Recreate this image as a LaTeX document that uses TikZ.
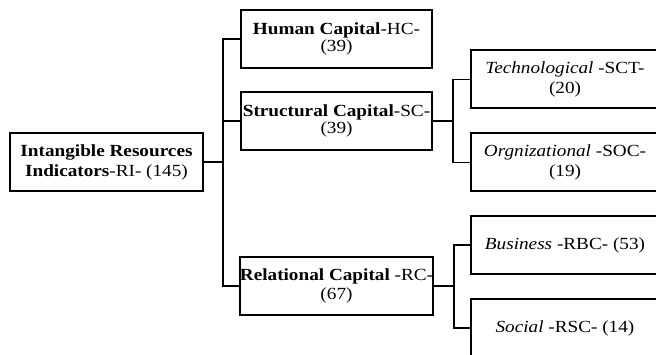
\documentclass[tikz,border=0pt]{standalone}
\usepackage{fontspec}
\setmainfont[FakeStretch=1.13]{Liberation Serif}

\begin{document}
\begin{tikzpicture}[
    x=1pt, y=-1pt,
    every node/.style={font=\fontsize{17}{17}\selectfont},
    box/.style={draw, line width=2pt, inner sep=0pt, align=center, minimum height=58pt},
    link/.style={line width=1.4pt},
    stem/.style={line width=2pt}
]
\useasboundingbox (0,0) rectangle (656,355);

% Root
\node[box, minimum width=193pt, font=\fontsize{17}{20}\selectfont] (ri) at (106.5,162)
{\textbf{Intangible Resources}\\\textbf{Indicators}-RI- (145)};

% Capitals
\node[box, minimum width=191pt] (hc) at (336.5,39) {\textbf{Human Capital}-HC-\\(39)};
\node[box, minimum width=191pt] (sc) at (336.5,121) {\textbf{Structural Capital}-SC-\\(39)};
\node[box, minimum width=191pt, font=\fontsize{17}{19}\selectfont] (rc) at (336.5,286)
{\textbf{Relational Capital} -RC-\\(67)};

% Sub-indicators
\node[box, minimum width=188pt, font=\fontsize{17}{20}\selectfont] (sct) at (565,79.5) {\textit{Technological} -SCT-\\(20)};
\node[box, minimum width=188pt, font=\fontsize{17}{20}\selectfont] (soc) at (565,162.5) {\textit{Orgnizational} -SOC-\\(19)};
\node[box, minimum width=188pt] (rbc) at (565,245) {\textit{Business} -RBC- (53)};
\node[box, minimum width=188pt] (rsc) at (565,328) {\textit{Social} -RSC- (14)};

% Connectors
\draw[stem] (ri.east) -- ++(19,0) coordinate (riBus);
\draw[link] (hc.west) -| (riBus) |- (rc.west);
\draw[link] (sc.west) -- (sc.west -| riBus);

\draw[stem] (sc.east) -- ++(20,0) coordinate (scBus);
\draw[link] (sct.west) -| (scBus) |- (soc.west);

\draw[stem] (rc.east) -- ++(20,0) coordinate (rcBus);
\draw[link] (rbc.west) -| (rcBus) |- (rsc.west);

\end{tikzpicture}
\end{document}
